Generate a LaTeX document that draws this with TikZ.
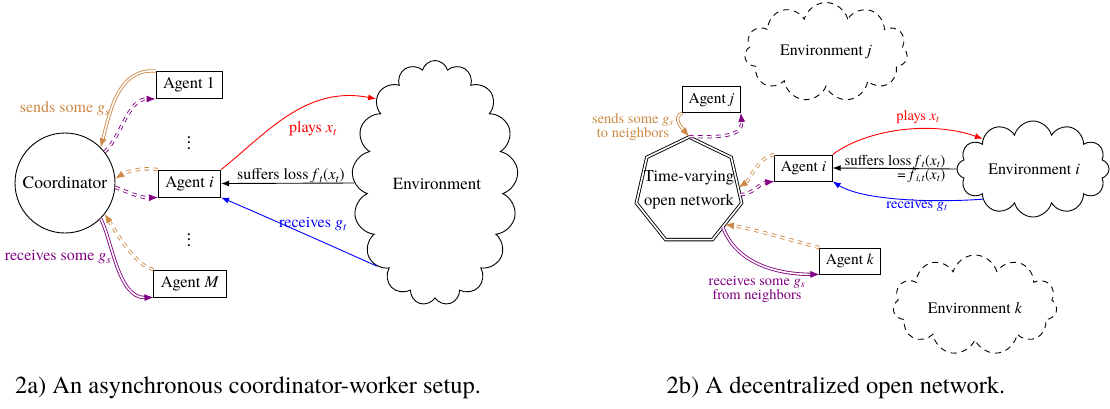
\documentclass[tikz,border=0pt]{standalone}
\usepackage{fontspec}
\setmainfont{TeX Gyre Termes}
\usetikzlibrary{shapes.symbols,shapes.geometric,arrows.meta}
\definecolor{myorange}{RGB}{204,136,68}
\definecolor{mypurple}{RGB}{128,0,128}
\newcommand{\vs}[2]{\textit{#1}\textsubscript{\textit{#2}}}
\begin{document}
\begin{tikzpicture}[x=1pt,y=-1pt,line width=0.9pt,
  font=\fontsize{17}{20}\selectfont,
  box/.style={draw, inner xsep=7pt, inner ysep=0pt, minimum height=27pt, font=\fontsize{16.5}{19}\selectfont},
  rbox/.style={draw, inner xsep=6pt, inner ysep=0pt, minimum height=26pt, font=\fontsize{15.5}{18}\selectfont},
  arr/.style={-{Latex[length=8pt,width=6pt]}},
  dbl/.style={double=white, double distance=1.6pt, line width=0.85pt, -{Latex[length=9pt,width=7pt]}},
  dsh/.style={dash pattern=on 4.5pt off 4.5pt},
  lbl/.style={font=\fontsize{16}{18}\selectfont},
  rlbl/.style={font=\fontsize{14.5}{11}\selectfont, align=center},
  vdotsty/.style={font=\fontsize{19}{5.8}\selectfont, align=center, inner sep=0pt},
  envcloud/.style={cloud, draw, cloud ignores aspect, inner sep=0pt},
  dcloud/.style={envcloud, dash pattern=on 6pt off 5pt}]
\useasboundingbox (0,0) rectangle (1110,408);

% ---------- left diagram ----------
\node[circle,draw,minimum size=100pt,inner sep=0pt,font=\fontsize{17.5}{20}\selectfont] (coord) at (65,183) {Coordinator};
\node[box] (a1) at (189,85) {Agent 1};
\node[box] (ai) at (189.5,183.5) {Agent \textit{i}};
\node[box] (aM) at (190,283.5) {Agent \textit{M}};
\node[vdotsty] (dots1) at (189,143) {.\\.\\.};
\node[vdotsty] (dots2) at (189,240) {.\\.\\.};
\node[envcloud,cloud puffs=17,minimum width=166pt,minimum height=245pt] (env) at (435,183) {};
\node (envtext) at (437,184) {Environment};

\draw[arr,red] (ai.north east) .. controls (265,135) and (305,85) .. (env.125);
\node[lbl,text=red] (lplay) at (313,129) {plays \vs{x}{t}};
\draw[arr] (env.west) -- (ai.east);
\node[lbl] (lloss) at (291,176) {suffers loss \vs{f}{t}(\vs{x}{t})};
\draw[arr,blue] (env.235) .. controls (330,245) and (255,212) .. (ai.south east);
\node[lbl,text=blue] (lrecv) at (313,224) {receives \vs{g}{t}};

\draw[dbl,myorange] (a1.north west) .. controls (118,68) and (110,112) .. (coord.45);
\draw[dbl,mypurple,dsh] (coord.38) .. controls (122,135) and (128,99) .. (a1.south west);
\draw[dbl,myorange,dsh] (ai.north west) .. controls (140,167) and (126,172) .. (coord.5);
\draw[dbl,mypurple,dsh] (coord.-5) .. controls (128,192) and (140,198) .. (ai.south west);
\draw[dbl,mypurple] (coord.-45) .. controls (112,240) and (118,298) .. (aM.south west);
\draw[dbl,myorange,dsh] (aM.north west) .. controls (135,265) and (118,235) .. (coord.-38);
\node[lbl,text=myorange] (lsend) at (65,109) {sends some \vs{g}{s}};
\node[lbl,text=mypurple] (lrecs) at (58,257) {receives some \vs{g}{s}};

% ---------- right diagram ----------
\node[regular polygon,regular polygon sides=7,draw,double=white,double distance=1.6pt,minimum size=108pt,inner sep=0pt] (net) at (689,191) {};
\node[align=center,font=\fontsize{16.5}{24}\selectfont] (nettext) at (689,190) {Time-varying\\open network};
\node[rbox] (aj) at (711.5,99.5) {Agent \textit{j}};
\node[rbox] (ri) at (803.5,168) {Agent \textit{i}};
\node[rbox] (ak) at (850,261) {Agent \textit{k}};

\node[envcloud,cloud puffs=12,minimum width=152pt,minimum height=96pt] (envi) at (1033,169) {};
\node[font=\fontsize{16}{18}\selectfont] (envitext) at (1034,169) {Environment \textit{i}};
\node[dcloud,cloud puffs=11,minimum width=163pt,minimum height=99pt] (envj) at (826,52) {};
\node[font=\fontsize{16}{18}\selectfont] (envjtext) at (826,52) {Environment \textit{j}};
\node[dcloud,cloud puffs=11,minimum width=164pt,minimum height=100pt] (envk) at (975,305) {};
\node[font=\fontsize{16}{18}\selectfont] (envktext) at (975,308) {Environment \textit{k}};

\draw[arr,red] (ri.north east) .. controls (865,130) and (930,120) .. (envi.149);
\node[rlbl,text=red] (rplay) at (918,117) {plays \vs{x}{t}};
\draw[arr] (envi.west) -- (ri.east);
\node[align=right,font=\fontsize{15}{12.5}\selectfont] (rloss) at (895,169) {suffers loss \vs{f}{t}(\vs{x}{t})\\= \vs{f}{i,t}(\vs{x}{t})};
\draw[arr,blue] (envi.211) .. controls (930,203) and (862,200) .. (ri.south east);
\node[rlbl,text=blue] (rrecv) at (917,205) {receives \vs{g}{t}};

\draw[dbl,myorange] (aj.south west) .. controls (672,118) and (682,128) .. (net.corner 1);
\draw[dbl,mypurple,dsh] (net.corner 1) .. controls (725,138) and (743,135) .. (aj.south east);
\draw[dbl,myorange,dsh] (ri.north west) .. controls (758,157) and (750,180) .. (net.4);
\draw[dbl,mypurple,dsh] (net.-4) .. controls (752,195) and (760,183) .. (ri.south west);
\draw[dbl,myorange,dsh] (ak.north west) .. controls (790,240) and (750,228) .. (net.-43);
\draw[dbl,mypurple] (net.-47) .. controls (735,260) and (770,274) .. (ak.south west);
\node[rlbl,text=myorange] (rsend) at (633,127) {sends some \vs{g}{s}\\to neighbors};
\node[rlbl,text=mypurple] (rrecs) at (757,289) {receives some \vs{g}{s}\\from neighbors};

% ---------- captions ----------
\node[font=\fontsize{24.5}{28}\selectfont] (cap1) at (248,388) {2a) An asynchronous coordinator-worker setup.};
\node[font=\fontsize{24.5}{28}\selectfont] (cap2) at (836,388) {2b) A decentralized open network.};
\end{tikzpicture}
\end{document}
